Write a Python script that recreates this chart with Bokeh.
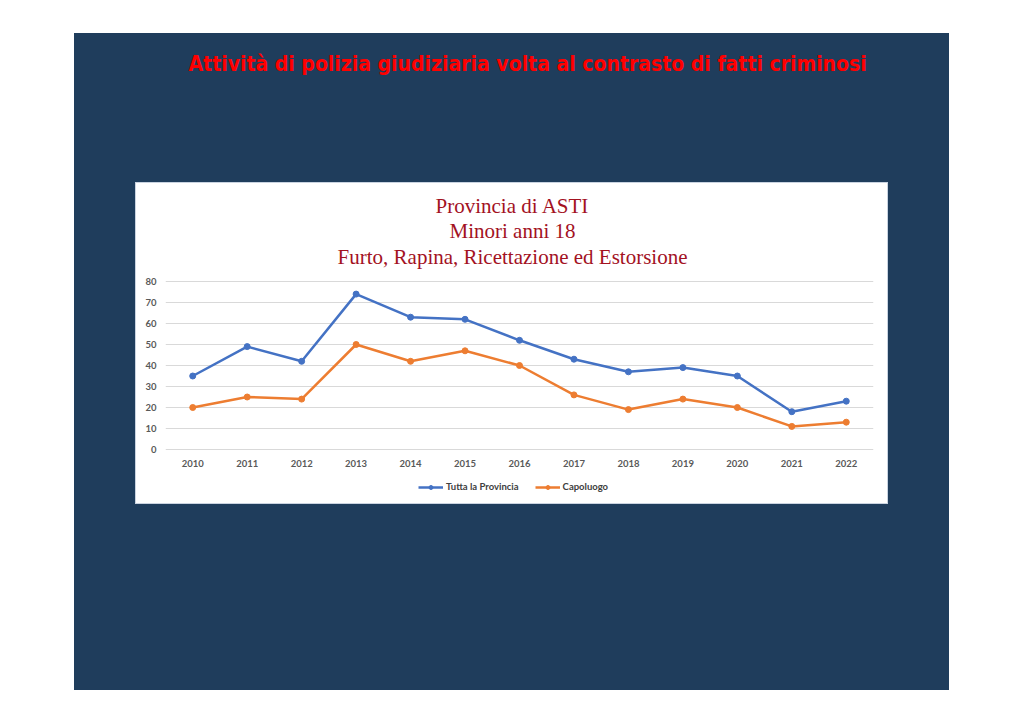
from bokeh.plotting import figure
from bokeh.models import Label, Legend, LegendItem, FixedTicker, Range1d, FactorRange
from bokeh.embed import file_html
from bokeh.resources import INLINE

# ---- data ----
years = ["2010", "2011", "2012", "2013", "2014", "2015", "2016",
         "2017", "2018", "2019", "2020", "2021", "2022"]
tutta = [35, 49, 42, 74, 63, 62, 52, 43, 37, 39, 35, 18, 23]
capoluogo = [20, 25, 24, 50, 42, 47, 40, 26, 19, 24, 20, 11, 13]
y_ticks = [0, 10, 20, 30, 40, 50, 60, 70, 80]
series_names = ["Tutta la Provincia", "Capoluogo"]
page_title = "Attività di polizia giudiziaria volta al contrasto di fatti criminosi"
chart_title = ["Provincia di ASTI", "Minori anni 18", "Furto, Rapina, Ricettazione ed Estorsione"]

BLUE_BG = "#1F3D5C"
C_BLUE = "#4472C4"
C_ORANGE = "#ED7D31"
DARK_RED = "#A3121F"

# page background: dark slide panel + white chart card, painted behind a transparent canvas
page_styles = {
    "background-color": "#FFFFFF",
    "background-image": ("linear-gradient(#FFFFFF,#FFFFFF), linear-gradient(#C9D3E0,#C9D3E0), "
                         "linear-gradient(%s,%s)" % (BLUE_BG, BLUE_BG)),
    "background-size": "751px 320px, 753px 322px, 875px 657px",
    "background-position": "136px 183px, 135px 182px, 74px 33px",
    "background-repeat": "no-repeat",
}

# Frame spans x 165..873 and y 0..700; value 0 sits at y=449 and 80 at y=281 (2.1 px per unit)
PX_PER_UNIT = 2.1
FRAME_BOTTOM = 700
y_lo = -(FRAME_BOTTOM - 449) / PX_PER_UNIT
y_hi = 80 + 281 / PX_PER_UNIT

p = figure(width=1024, height=724, x_range=FactorRange(*years), y_range=Range1d(y_lo, y_hi),
           toolbar_location=None, output_backend="svg", title=None,
           min_border_left=165, min_border_right=151, min_border_top=0,
           min_border_bottom=724 - FRAME_BOTTOM, styles=page_styles)
p.background_fill_alpha = 0
p.border_fill_alpha = 0
p.outline_line_color = None

p.yaxis.ticker = FixedTicker(ticks=y_ticks)
for ax in (p.xaxis[0], p.yaxis[0]):
    ax.axis_line_color = None
    ax.major_tick_line_color = None
    ax.minor_tick_line_color = None
    ax.major_tick_out = 0
    ax.major_tick_in = 0
    ax.minor_tick_out = 0
    ax.major_label_text_font = "Lato"
    ax.major_label_text_font_style = "bold"
    ax.major_label_text_font_size = "9.5px"
    ax.major_label_text_color = "#595959"
p.yaxis.major_label_standoff = 9
# pull the year labels up from the frame's bottom edge to just under the zero line
p.xaxis.major_label_standoff = 463 - 4 - FRAME_BOTTOM
p.xgrid.grid_line_color = None
p.ygrid.grid_line_color = "#D9D9D9"
p.ygrid.grid_line_width = 1

l1 = p.line(years, tutta, line_color=C_BLUE, line_width=2.5)
s1 = p.scatter(years, tutta, size=6, fill_color=C_BLUE, line_color=C_BLUE)
l2 = p.line(years, capoluogo, line_color=C_ORANGE, line_width=2.5)
s2 = p.scatter(years, capoluogo, size=6, fill_color=C_ORANGE, line_color=C_ORANGE)

legend = Legend(items=[LegendItem(label=series_names[0], renderers=[l1, s1]),
                       LegendItem(label=series_names[1], renderers=[l2, s2])],
                orientation="horizontal", location=(253, FRAME_BOTTOM - 492),
                label_text_font="Lato", label_text_font_style="bold",
                label_text_font_size="9.5px", label_text_color="#404040",
                glyph_width=25, glyph_height=10, spacing=16, padding=0, margin=0,
                label_standoff=3, border_line_color=None, background_fill_alpha=0)
p.add_layout(legend, "center")

# slide heading
p.add_layout(Label(x=23, y=FRAME_BOTTOM - 63, x_units="screen", y_units="screen",
                   text=page_title, text_color="#FF0000",
                   text_font="DejaVu Sans Condensed", text_font_style="bold",
                   text_font_size="21px", text_baseline="middle", text_align="left"))

# chart title lines
for t, yc in zip(chart_title, [205, 230, 256]):
    p.add_layout(Label(x=347, y=FRAME_BOTTOM - yc, x_units="screen", y_units="screen",
                       text=t, text_color=DARK_RED, text_font="Liberation Serif",
                       text_font_size="21px", text_align="center", text_baseline="middle"))

open("out.html", "w").write(file_html(p, INLINE))
